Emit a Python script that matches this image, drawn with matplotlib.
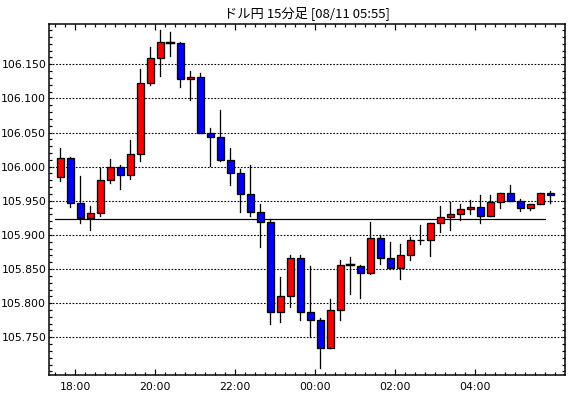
import numpy as np
from matplotlib import pyplot as plt
from matplotlib.ticker import FixedLocator, MultipleLocator

# ドル円 15分足 (17:30 -> 05:45), 赤=陽線 青=陰線
opens = [105.985, 106.013, 105.947, 105.925, 105.932, 105.980, 106.000, 105.988, 106.018, 106.123,
         106.159, 106.181, 106.181, 106.128, 106.131, 106.049, 106.043, 106.010, 105.991, 105.960,
         105.934, 105.919, 105.787, 105.810, 105.866, 105.787, 105.775, 105.735, 105.790, 105.856,
         105.854, 105.844, 105.896, 105.866, 105.852, 105.871, 105.893, 105.892, 105.918, 105.926,
         105.931, 105.938, 105.941, 105.928, 105.948, 105.962, 105.950, 105.940, 105.946, 105.962]
highs = [106.028, 106.014, 105.986, 105.942, 105.998, 106.011, 106.002, 106.039, 106.143, 106.176,
         106.200, 106.198, 106.182, 106.140, 106.137, 106.057, 106.083, 106.027, 105.996, 106.002,
         105.946, 105.924, 105.839, 105.871, 105.870, 105.855, 105.778, 105.806, 105.864, 105.868,
         105.856, 105.919, 105.900, 105.889, 105.886, 105.897, 105.915, 105.918, 105.943, 105.948,
         105.946, 105.951, 105.958, 105.958, 105.962, 105.973, 105.953, 105.946, 105.962, 105.965]
lows = [105.979, 105.941, 105.917, 105.907, 105.928, 105.976, 105.967, 105.982, 106.008, 106.120,
        106.133, 106.162, 106.117, 106.097, 106.049, 106.001, 106.008, 105.973, 105.933, 105.928,
        105.883, 105.769, 105.773, 105.795, 105.776, 105.750, 105.705, 105.734, 105.776, 105.813,
        105.807, 105.843, 105.858, 105.850, 105.835, 105.863, 105.886, 105.869, 105.904, 105.907,
        105.922, 105.930, 105.917, 105.928, 105.939, 105.950, 105.935, 105.936, 105.946, 105.947]
closes = [106.013, 105.947, 105.925, 105.932, 105.980, 106.000, 105.988, 106.018, 106.123, 106.159,
          106.182, 106.181, 106.128, 106.131, 106.049, 106.043, 106.010, 105.991, 105.960, 105.934,
          105.919, 105.787, 105.810, 105.866, 105.787, 105.775, 105.735, 105.790, 105.856, 105.856,
          105.844, 105.896, 105.866, 105.852, 105.871, 105.893, 105.892, 105.918, 105.926, 105.931,
          105.938, 105.941, 105.928, 105.948, 105.962, 105.950, 105.940, 105.946, 105.962, 105.959]
ref_level = 105.923
xlabels = ['18:00', '20:00', '22:00', '00:00', '02:00', '04:00']
xlabel_pos = [1.5, 9.5, 17.5, 25.5, 33.5, 41.5]
ylevels = [105.750, 105.800, 105.850, 105.900, 105.950, 106.000, 106.050, 106.100, 106.150]

fig = plt.figure(figsize=(5.7, 3.98), dpi=100)
ax = fig.add_axes([49/570, 1-375/398, 516/570, 351/398])

px = 0.72  # 1 pixel en points
for yl in ylevels:
    ax.axhline(yl, color='black', lw=1.1*px, ls=(0, (1.5, 1.5)), zorder=1)

ax.plot([-0.5, 48.5], [ref_level, ref_level], color='black', lw=1.2*px, zorder=2)

w = 0.65
for i in range(len(opens)):
    o, h, l, c = opens[i], highs[i], lows[i], closes[i]
    col = '#ff0000' if c >= o else '#0000ff'
    ax.plot([i, i], [l, h], color='black', lw=1.3*px, zorder=3)
    bot = min(o, c)
    hgt = max(abs(c - o), 0.0008)
    if abs(c - o) < 0.0008:
        ax.plot([i - w/2, i + w/2], [o, o], color='black', lw=2.5*px, zorder=4)
    else:
        ax.bar(i, hgt, width=w, bottom=bot, color=col, edgecolor='black', linewidth=1.3*px, zorder=4)

ax.set_xlim(-1.13, 50.47)
ax.set_ylim(105.6948, 106.209)

ax.xaxis.set_major_locator(FixedLocator(xlabel_pos))
ax.set_xticklabels(xlabels)
ax.xaxis.set_minor_locator(FixedLocator(np.arange(-0.5, 50.5, 1.0)))
ax.yaxis.set_major_locator(FixedLocator(ylevels))
ax.set_yticklabels(['%.3f' % v for v in ylevels])
ax.yaxis.set_minor_locator(MultipleLocator(0.01))

ax.tick_params(axis='both', which='both', direction='in', top=True, right=True, labelsize=7.8, colors='black')
ax.tick_params(axis='x', which='major', length=4, width=1.2*px, pad=5)
ax.tick_params(axis='x', which='minor', length=2, width=1.2*px)
ax.tick_params(axis='y', which='major', length=2.5, width=1.2*px, pad=2)
ax.tick_params(axis='y', which='minor', length=2, width=1.2*px)
for s in ax.spines.values():
    s.set_linewidth(1.5*px)

fig.text(307/570, 1-13/398, 'ドル円 15分足 [08/11 05:55]', ha='center', va='center',
         fontsize=9.5, family=['Noto Sans CJK JP', 'DejaVu Sans'])

fig.savefig('out.png', dpi=100)
